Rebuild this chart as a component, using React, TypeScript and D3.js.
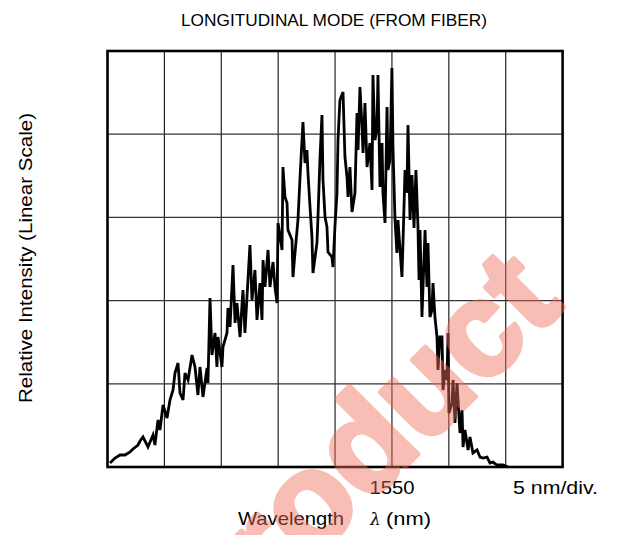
import { useEffect } from 'react';
import * as d3 from 'd3';

// spectrum trace (nm, % of full scale)
const wavelength = [
  1525.22, 1525.66, 1526.10, 1526.54, 1526.98, 1527.24, 1527.68, 1527.86, 1528.12, 1528.56,
  1529.00, 1529.17, 1529.44, 1529.61, 1529.88, 1530.23, 1530.49, 1530.76, 1530.93, 1531.20,
  1531.37, 1531.64, 1531.81, 1532.08, 1532.43, 1532.69, 1532.95, 1533.13, 1533.39, 1533.75,
  1533.83, 1534.01, 1534.18, 1534.45, 1534.62, 1534.71, 1535.06, 1535.15, 1535.50, 1535.59,
  1535.77, 1536.03, 1536.21, 1536.38, 1536.65, 1536.82, 1536.91, 1537.08, 1537.26, 1537.52,
  1537.70, 1537.96, 1538.14, 1538.40, 1538.58, 1538.67, 1538.84, 1539.11, 1539.28, 1539.55,
  1539.72, 1539.90, 1539.99, 1540.34, 1540.42, 1540.60, 1540.78, 1540.86, 1541.22, 1541.30,
  1541.48, 1541.74, 1541.92, 1542.18, 1542.36, 1542.53, 1542.62, 1542.80, 1542.97, 1543.06,
  1543.41, 1543.50, 1543.68, 1543.85, 1543.94, 1544.12, 1544.29, 1544.38, 1544.73, 1544.82,
  1544.99, 1545.17, 1545.26, 1545.43, 1545.70, 1545.87, 1546.05, 1546.14, 1546.31, 1546.49,
  1546.75, 1546.93, 1547.02, 1547.19, 1547.37, 1547.46, 1547.63, 1547.81, 1548.07, 1548.25,
  1548.33, 1548.51, 1548.69, 1548.77, 1548.95, 1549.13, 1549.21, 1549.39, 1549.57, 1549.65,
  1549.83, 1550.00, 1550.09, 1550.27, 1550.44, 1550.53, 1550.88, 1550.97, 1551.15, 1551.32,
  1551.41, 1551.59, 1551.76, 1551.94, 1552.11, 1552.29, 1552.38, 1552.47, 1552.64, 1552.91,
  1553.08, 1553.17, 1553.34, 1553.52, 1553.61, 1553.78, 1553.96, 1554.05, 1554.22, 1554.40,
  1554.49, 1554.66, 1554.84, 1554.93, 1555.01, 1555.28, 1555.37, 1555.54, 1555.72, 1555.98,
  1556.16, 1556.25, 1556.42, 1556.69, 1556.86, 1557.12, 1557.48, 1557.74, 1558.00, 1558.36,
  1558.62, 1558.88, 1559.23, 1559.76, 1560.20,
];

const intensity = [
  0.96, 2.16, 2.88, 2.88, 3.61, 4.33, 5.29, 6.25, 7.21, 4.81,
  7.69, 5.29, 11.30, 8.89, 14.90, 11.78, 16.11, 18.51, 22.60, 25.00,
  17.79, 16.11, 22.60, 20.91, 26.92, 24.04, 17.31, 24.04, 16.83, 23.80,
  20.19, 40.63, 26.92, 32.21, 24.04, 31.25, 24.04, 28.85, 32.21, 38.22,
  33.66, 48.56, 34.62, 39.42, 31.25, 38.94, 42.55, 32.21, 40.87, 53.37,
  40.15, 47.36, 35.34, 44.23, 35.34, 49.76, 43.27, 52.17, 43.27, 49.28,
  43.27, 39.42, 58.66, 52.17, 72.12, 64.91, 63.47, 56.97, 54.57, 45.67,
  51.44, 59.38, 69.47, 82.93, 73.08, 76.20, 70.67, 62.50, 55.29, 46.63,
  53.85, 60.10, 74.52, 84.62, 68.99, 60.10, 57.69, 51.68, 50.48, 48.08,
  57.69, 65.87, 78.61, 88.22, 90.15, 74.52, 69.71, 64.91, 72.12, 61.30,
  65.87, 85.10, 76.20, 91.35, 81.73, 75.48, 87.50, 72.12, 77.88, 66.59,
  94.23, 78.61, 81.73, 94.23, 67.31, 77.88, 65.87, 58.66, 86.54, 71.39,
  73.80, 95.91, 76.92, 59.38, 51.44, 59.38, 45.67, 53.85, 71.39, 65.87,
  82.21, 59.38, 70.19, 57.45, 71.39, 57.45, 44.95, 56.97, 36.06, 56.97,
  43.27, 53.85, 36.06, 37.74, 44.23, 36.06, 31.25, 23.32, 31.25, 31.25,
  18.51, 23.32, 20.91, 32.21, 12.98, 15.38, 20.91, 10.58, 20.19, 8.17,
  13.70, 4.81, 8.89, 4.09, 7.21, 3.37, 4.09, 2.40, 2.16, 2.40,
  0.96, 1.20, 0.48, 0.48, 0.00,
];

const xDomain = [1525, 1565];
const xGrid = d3.range(1525, 1566, 5);
const yGrid = d3.range(0, 101, 20);
const centerLabel = '1550';

const W = 617;
const H = 535;
const plot = { left: 107.5, top: 51, right: 562.6, bottom: 467 };
const font = '"Liberation Sans", Arial, Helvetica, sans-serif';

export default function App() {
  useEffect(() => {
    document.body.style.margin = '0';
  }, []);

  const x = d3.scaleLinear().domain(xDomain).range([plot.left, plot.right]);
  const y = d3.scaleLinear().domain([0, 100]).range([plot.bottom, plot.top]);

  const points = wavelength.map((w, i) => [w, intensity[i]] as [number, number]);
  const line = d3.line<[number, number]>()
    .x(d => x(d[0]))
    .y(d => y(d[1]));

  return (
    <svg width={W} height={H} viewBox={`0 0 ${W} ${H}`} style={{ display: 'block', background: '#fff' }}>
      <rect width={W} height={H} fill="#fff" />

      {/* grid */}
      {xGrid.slice(1, -1).map(v => (
        <line key={'gx' + v} x1={x(v)} x2={x(v)} y1={plot.top} y2={plot.bottom} stroke="#222" strokeWidth={1.2} />
      ))}
      {yGrid.slice(1, -1).map(v => (
        <line key={'gy' + v} x1={plot.left} x2={plot.right} y1={y(v)} y2={y(v)} stroke="#333" strokeWidth={1.3} />
      ))}

      {/* trace */}
      <path d={line(points) ?? ''} fill="none" stroke="#000" strokeWidth={2.8} strokeLinejoin="miter" strokeMiterlimit={4} />

      {/* frame */}
      <rect x={plot.left} y={plot.top} width={plot.right - plot.left} height={plot.bottom - plot.top}
        fill="none" stroke="#000" strokeWidth={2.6} />

      {/* texts */}
      <text x={334} y={26} textAnchor="middle" fontFamily={font} fontSize={16.5} fill="#000"
        textLength={306} lengthAdjust="spacingAndGlyphs">
        LONGITUDINAL MODE (FROM FIBER)
      </text>
      <text transform="translate(32,258) rotate(-90)" textAnchor="middle" fontFamily={font} fontSize={18.5} fill="#000"
        textLength={290} lengthAdjust="spacingAndGlyphs">
        Relative Intensity (Linear Scale)
      </text>
      <text x={x(+centerLabel)} y={494} textAnchor="middle" fontFamily={font} fontSize={18.5} fill="#000"
        textLength={45} lengthAdjust="spacingAndGlyphs">
        {centerLabel}
      </text>
      <text x={513} y={494} textAnchor="start" fontFamily={font} fontSize={18.5} fill="#000"
        textLength={85} lengthAdjust="spacingAndGlyphs">
        5 nm/div.
      </text>
      <text x={238} y={525} fontFamily={font} fontSize={18.5} fill="#000">
        <tspan textLength={106} lengthAdjust="spacingAndGlyphs">Wavelength</tspan>
        <tspan x={370} fontStyle="italic" fontFamily="'DejaVu Serif', serif" fontSize={17}>λ</tspan>
        <tspan x={386} textLength={45} lengthAdjust="spacingAndGlyphs">(nm)</tspan>
      </text>

      {/* watermark */}
      <g opacity={0.45}>
        <text transform="translate(210,662) rotate(-45)" fontFamily={font} fontWeight="bold" fontSize={133}
          fill="rgb(240,110,90)" stroke="rgb(240,110,90)" strokeWidth={5} strokeLinejoin="round">
          Product
        </text>
      </g>
    </svg>
  );
}
